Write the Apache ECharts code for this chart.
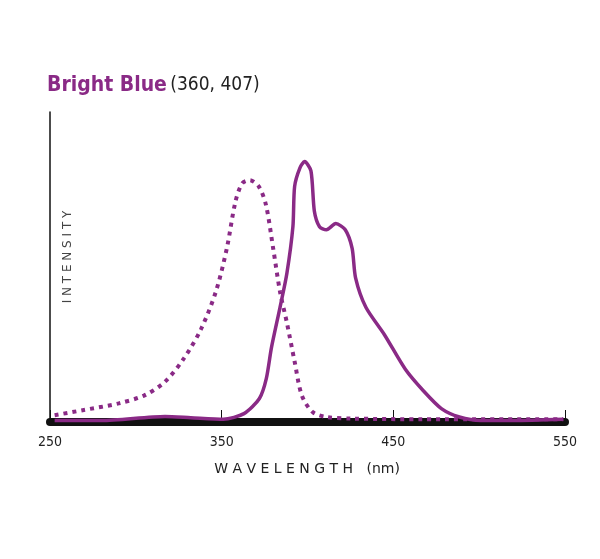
<!DOCTYPE html>
<html><head><meta charset="utf-8">
<script src="https://cdn.jsdelivr.net/npm/echarts@6/dist/echarts.min.js"></script>
<style>html,body{margin:0;background:#fff}#c{width:600px;height:559px}</style>
</head><body><div id="c"></div>
<script>
const emission = [[252.7,0.5],[280,0.5],[317,1.8],[332,1.4],[351,0.9],[363,2.7],[372,7.6],[376,14],[379,24],[384,37],[388,48],[391.5,63],[392.5,76],[395.6,82],[398.3,84],[402,81],[404,68],[407,63],[411,62],[416.5,64],[422,62],[426,56],[428,46.5],[434,37],[445,28],[457,17],[467.6,10],[478,4.3],[488.5,1.6],[501,0.5],[520,0.5],[549,0.9]];
const excitation = [[252.7,2.2],[269,3.8],[290,6],[305,8.6],[317,13],[328,20.5],[338,30],[346.6,42],[353,56],[358,71],[362,77],[366.4,78],[371.6,76],[375.8,70],[380,56],[384,42],[388,32],[392.5,19.5],[396.7,8.6],[403,3.2],[411,1.6],[426,1.1],[467.6,0.9],[549,0.9]];
const xTicks = [250,350,450,550];
const purple = '#8a2a86';
const cond = '"DejaVu Sans Condensed","Liberation Sans Narrow","Liberation Sans",sans-serif';
const chart = echarts.init(document.getElementById('c'));
chart.setOption({
  animation:false,
  grid:{left:50,right:35,top:112,bottom:137},
  graphic:[
    {type:'text',left:47,top:75,style:{text:'{b|Bright Blue} {n|(360, 407)}',rich:{b:{fontFamily:cond,fontWeight:'bold',fontSize:21,fill:purple},n:{fontFamily:cond,fontSize:19,fill:'#222'}}}},
    {type:'text',x:68,y:257,rotation:Math.PI/2,style:{text:'I N T E N S I T Y',fontFamily:'"DejaVu Sans",sans-serif',fontSize:12,fill:'#444',align:'center',verticalAlign:'middle'}},
    {type:'text',x:307,y:469,style:{text:'W A V E L E N G T H   (nm)',fontFamily:'"DejaVu Sans",sans-serif',fontSize:14,fill:'#222',align:'center',verticalAlign:'middle'}}
  ],
  xAxis:{type:'value',min:250,max:550,interval:100,offset:4,
    axisLine:{lineStyle:{color:'#111',width:8}},
    axisTick:{inside:true,length:12,lineStyle:{color:'#111',width:1}},
    axisLabel:{color:'#222',fontFamily:cond,fontSize:14,margin:9,formatter:v=>xTicks.includes(v)?String(v):''},
    splitLine:{show:false}},
  yAxis:{type:'value',min:0,max:100,axisLine:{show:true,lineStyle:{color:'#111',width:1.5}},axisTick:{show:false},axisLabel:{show:false},splitLine:{show:false}},
  series:[
    {type:'line',data:excitation,smooth:0.3,showSymbol:false,lineStyle:{color:purple,width:4,type:[4,5]}},
    {type:'line',data:emission,smooth:0.25,showSymbol:false,lineStyle:{color:purple,width:3.5}}
  ]
});
</script></body></html>
